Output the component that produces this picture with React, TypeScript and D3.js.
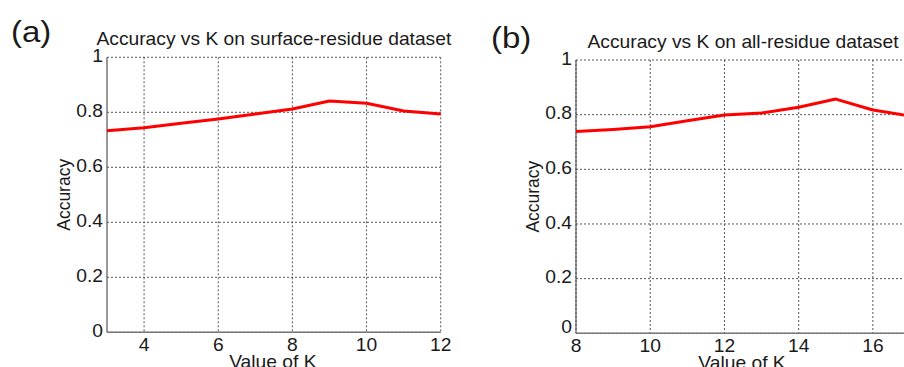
import * as d3 from 'd3';

// values
const kSurface = [3, 4, 5, 6, 7, 8, 9, 10, 11, 12];
const accSurface = [0.733, 0.744, 0.76, 0.776, 0.794, 0.812, 0.841, 0.833, 0.805, 0.794];

const kAll = [8, 9, 10, 11, 12, 13, 14, 15, 16, 17];
const accAll = [0.738, 0.746, 0.756, 0.778, 0.799, 0.806, 0.827, 0.857, 0.817, 0.795];

const yTicks = [0, 0.2, 0.4, 0.6, 0.8, 1];
const xTicksSurface = [4, 6, 8, 10, 12];
const xTicksAll = [8, 10, 12, 14, 16];

const W = 904;
const H = 367;
const SX = 1.1; // the original image is stretched horizontally a bit
const FS = 17.5;
const FONT = 'Arial, "Liberation Sans", sans-serif';
const TXT = '#1a1a1a';

function T({ x, y, size = FS, anchor = 'middle', baseline = 'auto', rotate = 0, children }: any) {
  const tr = rotate
    ? `translate(${x},${y}) rotate(${rotate}) scale(1,${SX})`
    : `translate(${x},${y}) scale(${SX},1)`;
  return (
    <text transform={tr} fontSize={size} fontFamily={FONT} fill={TXT} textAnchor={anchor} dominantBaseline={baseline}>
      {children}
    </text>
  );
}

function Panel({ ks, acc, xDomain, xTicks, box, title, tag, tagPos, titleY, zeroShift }: any) {
  const [x0, x1, y0, y1] = box;
  const x = d3.scaleLinear().domain(xDomain).range([x0, x1]);
  const y = d3.scaleLinear().domain([0, 1]).range([y1, y0]);
  const line = d3.line<number>().x((_, i) => x(ks[i])).y(d => y(d));
  const cx = (x0 + x1) / 2;
  const cy = (y0 + y1) / 2;

  return (
    <g>
      {/* grid */}
      {yTicks.map(t => (
        <line key={'gy' + t} x1={x0} x2={x1} y1={y(t)} y2={y(t)} stroke="#555" strokeDasharray="2,2" />
      ))}
      {xTicks.map((t: number) => (
        <line key={'gx' + t} x1={x(t)} x2={x(t)} y1={y0} y2={y1} stroke="#555" strokeDasharray="2,2" />
      ))}
      {/* axes */}
      <line x1={x0} x2={x0} y1={y0} y2={y1} stroke="#555" strokeWidth={1.2} />
      <line x1={x0} x2={x1} y1={y1} y2={y1} stroke="#777" strokeWidth={1.5} />

      <path d={line(acc) ?? ''} fill="none" stroke="#ff0000" strokeWidth={3} strokeLinejoin="round" />

      {yTicks.map(t => (
        <T key={'ly' + t} x={x0 - 4} y={y(t) + (t === 0 ? zeroShift : 0)} anchor="end" baseline="middle">
          {d3.format('~g')(t)}
        </T>
      ))}
      {xTicks.map((t: number) => (
        <T key={'lx' + t} x={x(t)} y={y1 + 19}>{t}</T>
      ))}

      <T x={x0 - 37} y={cy} rotate={-90}>Accuracy</T>
      <T x={cx - 1} y={y1 + 35.5}>Value of K</T>
      <T x={cx} y={titleY}>{title}</T>
      <T x={tagPos[0]} y={tagPos[1]} size={30} anchor="start">{tag}</T>
    </g>
  );
}

export default function App() {
  return (
    <>
      <style>{'body{margin:0}'}</style>
      <svg width={W} height={H} style={{ display: 'block', background: '#fff' }}>
        <Panel
          ks={kSurface}
          acc={accSurface}
          xDomain={[3, 12]}
          xTicks={xTicksSurface}
          box={[107, 440.7, 57.3, 332.3]}
          title="Accuracy vs K on surface-residue dataset"
          titleY={45}
          tag="(a)"
          tagPos={[11, 41.5]}
          zeroShift={0}
        />
        <Panel
          ks={kAll}
          acc={accAll}
          xDomain={[8, 17]}
          xTicks={xTicksAll}
          box={[576, 910, 60, 333.3]}
          title="Accuracy vs K on all-residue dataset"
          titleY={47.5}
          tag="(b)"
          tagPos={[491, 47.5]}
          zeroShift={-5}
        />
      </svg>
    </>
  );
}
